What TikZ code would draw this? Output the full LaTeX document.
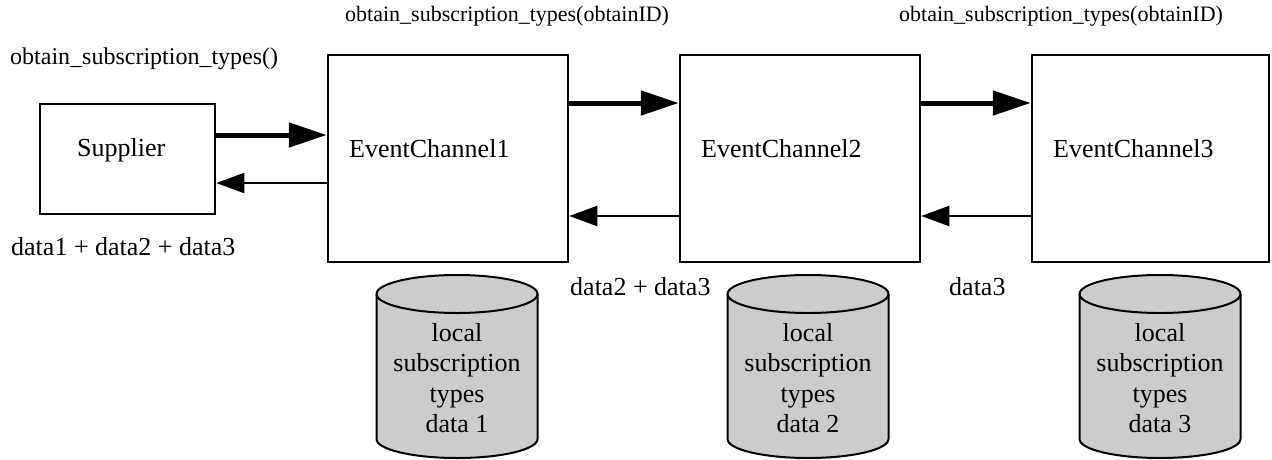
\documentclass[tikz,border=0pt]{standalone}
\usepackage{fontspec}
\setmainfont{Liberation Serif}
\usetikzlibrary{arrows.meta}
\definecolor{cylgray}{RGB}{204,204,204}
\newcommand\mycyl[3]{%
\begin{scope}[shift={(#1,0)}]
\filldraw[cyl] (-80.5,294) -- (-80.5,439) arc[start angle=180,end angle=0,x radius=80.5,y radius=19] -- (80.5,294) arc[start angle=0,end angle=-180,x radius=80.5,y radius=19] -- cycle;
\draw[line width=2pt] (-80.5,294) arc[start angle=180,end angle=0,x radius=80.5,y radius=19];
\node[big, align=center] (#2) at (0,378) {local\\subscription\\types\\#3};
\end{scope}}
\begin{document}
\begin{tikzpicture}[x=1pt,y=-1pt,
 box/.style={draw, line width=2.5pt, inner sep=0, minimum width=240pt, minimum height=207pt},
 big/.style={font=\fontsize{26}{30.6}\selectfont, inner sep=0},
 small/.style={font=\fontsize{22}{26}\selectfont, inner sep=0},
 fwd/.style={line width=5pt, -{Triangle[length=38pt,width=24pt]}},
 back/.style={line width=2pt, -{Triangle[length=28pt,width=20pt]}},
 cyl/.style={fill=cylgray, draw=black, line width=2pt}]
\useasboundingbox (0,0) rectangle (1272,459);
% boxes
\node[box, minimum width=175pt, minimum height=110pt] (sup) at (127.5,159) {};
\node[box] (ec1) at (448,158.5) {};
\node[box] (ec2) at (800,158.5) {};
\node[box, minimum width=237pt] (ec3) at (1150.5,158.5) {};
% rows for connectors
\coordinate (ya) at (0,135);
\coordinate (yb) at (0,183);
\coordinate (yc) at (0,103);
\coordinate (yd) at (0,216);
\draw[fwd] (sup.east |- ya) -- (ec1.west |- ya);
\draw[back] (ec1.west |- yb) -- (sup.east |- yb);
\draw[fwd] (ec1.east |- yc) -- (ec2.west |- yc);
\draw[back] (ec2.west |- yd) -- (ec1.east |- yd);
\draw[fwd] (ec2.east |- yc) -- (ec3.west |- yc);
\draw[back] (ec3.west |- yd) -- (ec2.east |- yd);
% texts
\node[small, font=\fontsize{24}{28}\selectfont, anchor=base west] (l0) at (10,64) {obtain\_subscription\_types()};
\node[small, anchor=base west] (l1) at (345,21) {obtain\_subscription\_types(obtainID)};
\node[small, anchor=base west] (l2) at (899,21) {obtain\_subscription\_types(obtainID)};
\node[big, anchor=base west] (tsup) at (77,156) {Supplier};
\node[big, anchor=base west] (t1) at (349,157) {EventChannel1};
\node[big, anchor=base west] (t2) at (701,157) {EventChannel2};
\node[big, anchor=base west] (t3) at (1053,157) {EventChannel3};
\node[big, anchor=base west] (d1) at (11,255) {data1 + data2 + data3};
\node[big, anchor=base west] (d2) at (570,295) {data2 + data3};
\node[big, anchor=base west] (d3) at (949,295) {data3};
% cylinders
\mycyl{457}{c1}{data 1}
\mycyl{808}{c2}{data 2}
\mycyl{1160}{c3}{data 3}
\end{tikzpicture}
\end{document}
